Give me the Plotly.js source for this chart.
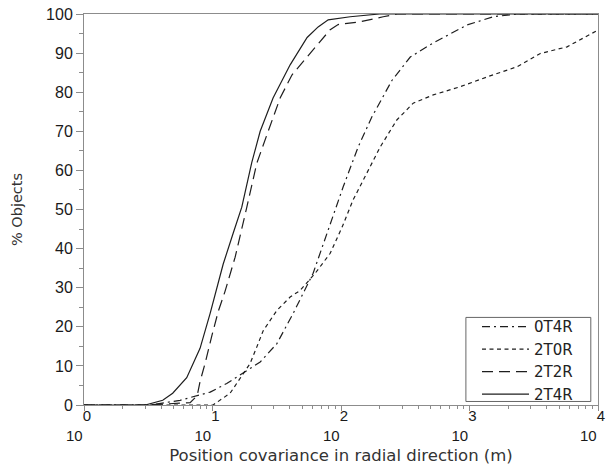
<!DOCTYPE html>
<html>
<head>
<meta charset="utf-8">
<script src="https://cdn.plot.ly/plotly-3.0.1.min.js"></script>
<style>html,body{margin:0;padding:0;background:#fff;}#chart{width:608px;height:472px;}</style>
</head>
<body>
<div id="chart"></div>
<script>
// Series names
const seriesNames = ["0T4R", "2T0R", "2T2R", "2T4R"];

// 0T4R (dash-dot)
const x0T4R = [1, 3.3, 5.6, 9.6, 12.9, 17.9, 23.5, 31.7, 42.4, 60.7, 68.8, 84.9, 104, 136, 174, 249, 346, 522, 957, 1531, 2344, 10000];
const y0T4R = [0, 0, 1.2, 3.3, 5.5, 8.4, 11, 15.7, 23.4, 33.7, 38.8, 47, 55.8, 66, 73.7, 83, 89, 92.6, 97.2, 99.3, 100, 100];

// 2T0R (short dash)
const x2T0R = [1, 10.1, 13.7, 16.4, 19.6, 22.1, 24.8, 31.7, 40.2, 48.1, 63, 82.4, 102, 124, 149, 202, 272, 365, 522, 847, 1368, 2344, 3556, 5746, 10000];
const y2T0R = [0, 0, 3, 6.8, 10.6, 14.8, 19, 24.2, 27.6, 29.3, 33.7, 38.8, 45.5, 52.4, 57.5, 66, 72.9, 77.2, 79.3, 81.4, 83.9, 86.5, 89.9, 91.6, 95.9];

// 2T2R (long dash)
const x2T2R = [1, 3, 6.7, 7.6, 8.0, 8.75, 9.9, 11.1, 12.5, 15.0, 18.5, 22.1, 27.1, 33.6, 41.5, 57.5, 72.7, 82.4, 95, 141, 213, 274, 10000];
const y2T2R = [0, 0, 0.6, 2.4, 6, 10.6, 17.8, 24, 29, 37.8, 50.6, 61.8, 70, 78.5, 84.4, 90, 94, 96, 97.3, 98, 99.3, 100, 100];

// 2T4R (solid)
const x2T4R = [1, 3.0, 4.1, 4.9, 6.3, 8.0, 9.6, 10.8, 12.1, 14.5, 16.9, 20.2, 23.5, 29.6, 40.2, 54.5, 66.4, 79.5, 118, 200, 10000];
const y2T4R = [0, 0, 1.2, 3, 7, 14.5, 23.5, 30, 36, 44, 50.6, 62, 70, 78.5, 87, 94, 96.7, 98.5, 99.3, 100, 100];

// Axis ticks
const xTickVals = [1, 10, 100, 1000, 10000];
const xTickExps = ["0", "1", "2", "3", "4"];
const yTickVals = [0, 10, 20, 30, 40, 50, 60, 70, 80, 90, 100];

const FS = "\u2007";
// exponent on the upper line, base "10" on the lower line
const xTickText = xTickExps.map(e => e + "<br>10" + FS);

const lineColor = "#1e1e1e";
const axisColor = "#8c8c8c";
const tickFont = {family: "Liberation Sans, Arial, sans-serif", size: 15, color: "#1a1a1a"};

const xs = [x0T4R, x2T0R, x2T2R, x2T4R];
const ys = [y0T4R, y2T0R, y2T2R, y2T4R];
const dashes = ["8px,4px,2px,4px", "4px,3.5px", "11px,6px", "solid"];

const traces = seriesNames.map((n, i) => ({
  x: xs[i], y: ys[i], name: n, type: "scatter", mode: "lines",
  line: {color: lineColor, width: 1.2, dash: dashes[i]}
}));

const layout = {
  width: 608, height: 472,
  margin: {l: 84, r: 10, t: 14, b: 67},
  paper_bgcolor: "#fff", plot_bgcolor: "#fff",
  showlegend: true,
  legend: {
    x: 0.7646, xanchor: "left", y: 0.242, yanchor: "top",
    itemwidth: 47,
    bgcolor: "rgba(0,0,0,0)", borderwidth: 0,
    font: {family: "DejaVu Sans, sans-serif", size: 15, color: "#222"},
    tracegroupgap: 0
  },
  shapes: [{
    type: "rect", xref: "paper", yref: "paper",
    x0: 0.743, x1: 0.986, y0: 0.009, y1: 0.224,
    line: {color: "#666", width: 1}, fillcolor: "rgba(0,0,0,0)"
  }],
  xaxis: {
    type: "log", range: [0, 4],
    tickmode: "array", tickvals: xTickVals, ticktext: xTickText,
    ticklabelposition: "outside left", ticklabelshift: 8,
    ticklabeloverflow: "allow", ticklabelstandoff: -3,
    ticks: "outside", ticklen: 5, tickcolor: axisColor, tickwidth: 1,
    minor: {ticks: "outside", ticklen: 3, tickcolor: axisColor, dtick: "D1", showgrid: false},
    showline: true, linecolor: axisColor, linewidth: 1, mirror: true,
    showgrid: false, zeroline: false,
    tickfont: tickFont,
    title: {text: "Position covariance in radial direction (m)", font: {family: "DejaVu Sans, sans-serif", size: 16.5, color: "#333"}, standoff: 6}
  },
  yaxis: {
    range: [0, 100], tickmode: "array", tickvals: yTickVals,
    ticks: "outside", ticklen: 7, tickcolor: axisColor, tickwidth: 1,
    minor: {ticks: "outside", ticklen: 4, tickcolor: axisColor, dtick: 5, showgrid: false},
    showline: true, linecolor: axisColor, linewidth: 1, mirror: true,
    showgrid: false, zeroline: false,
    tickfont: {family: "Liberation Sans, Arial, sans-serif", size: 16, color: "#1a1a1a"},
    title: {text: "% Objects", font: {family: "DejaVu Sans, sans-serif", size: 14.5, color: "#333"}, standoff: 20}
  }
};

Plotly.newPlot("chart", traces, layout, {displayModeBar: false, staticPlot: true});
</script>
</body>
</html>
